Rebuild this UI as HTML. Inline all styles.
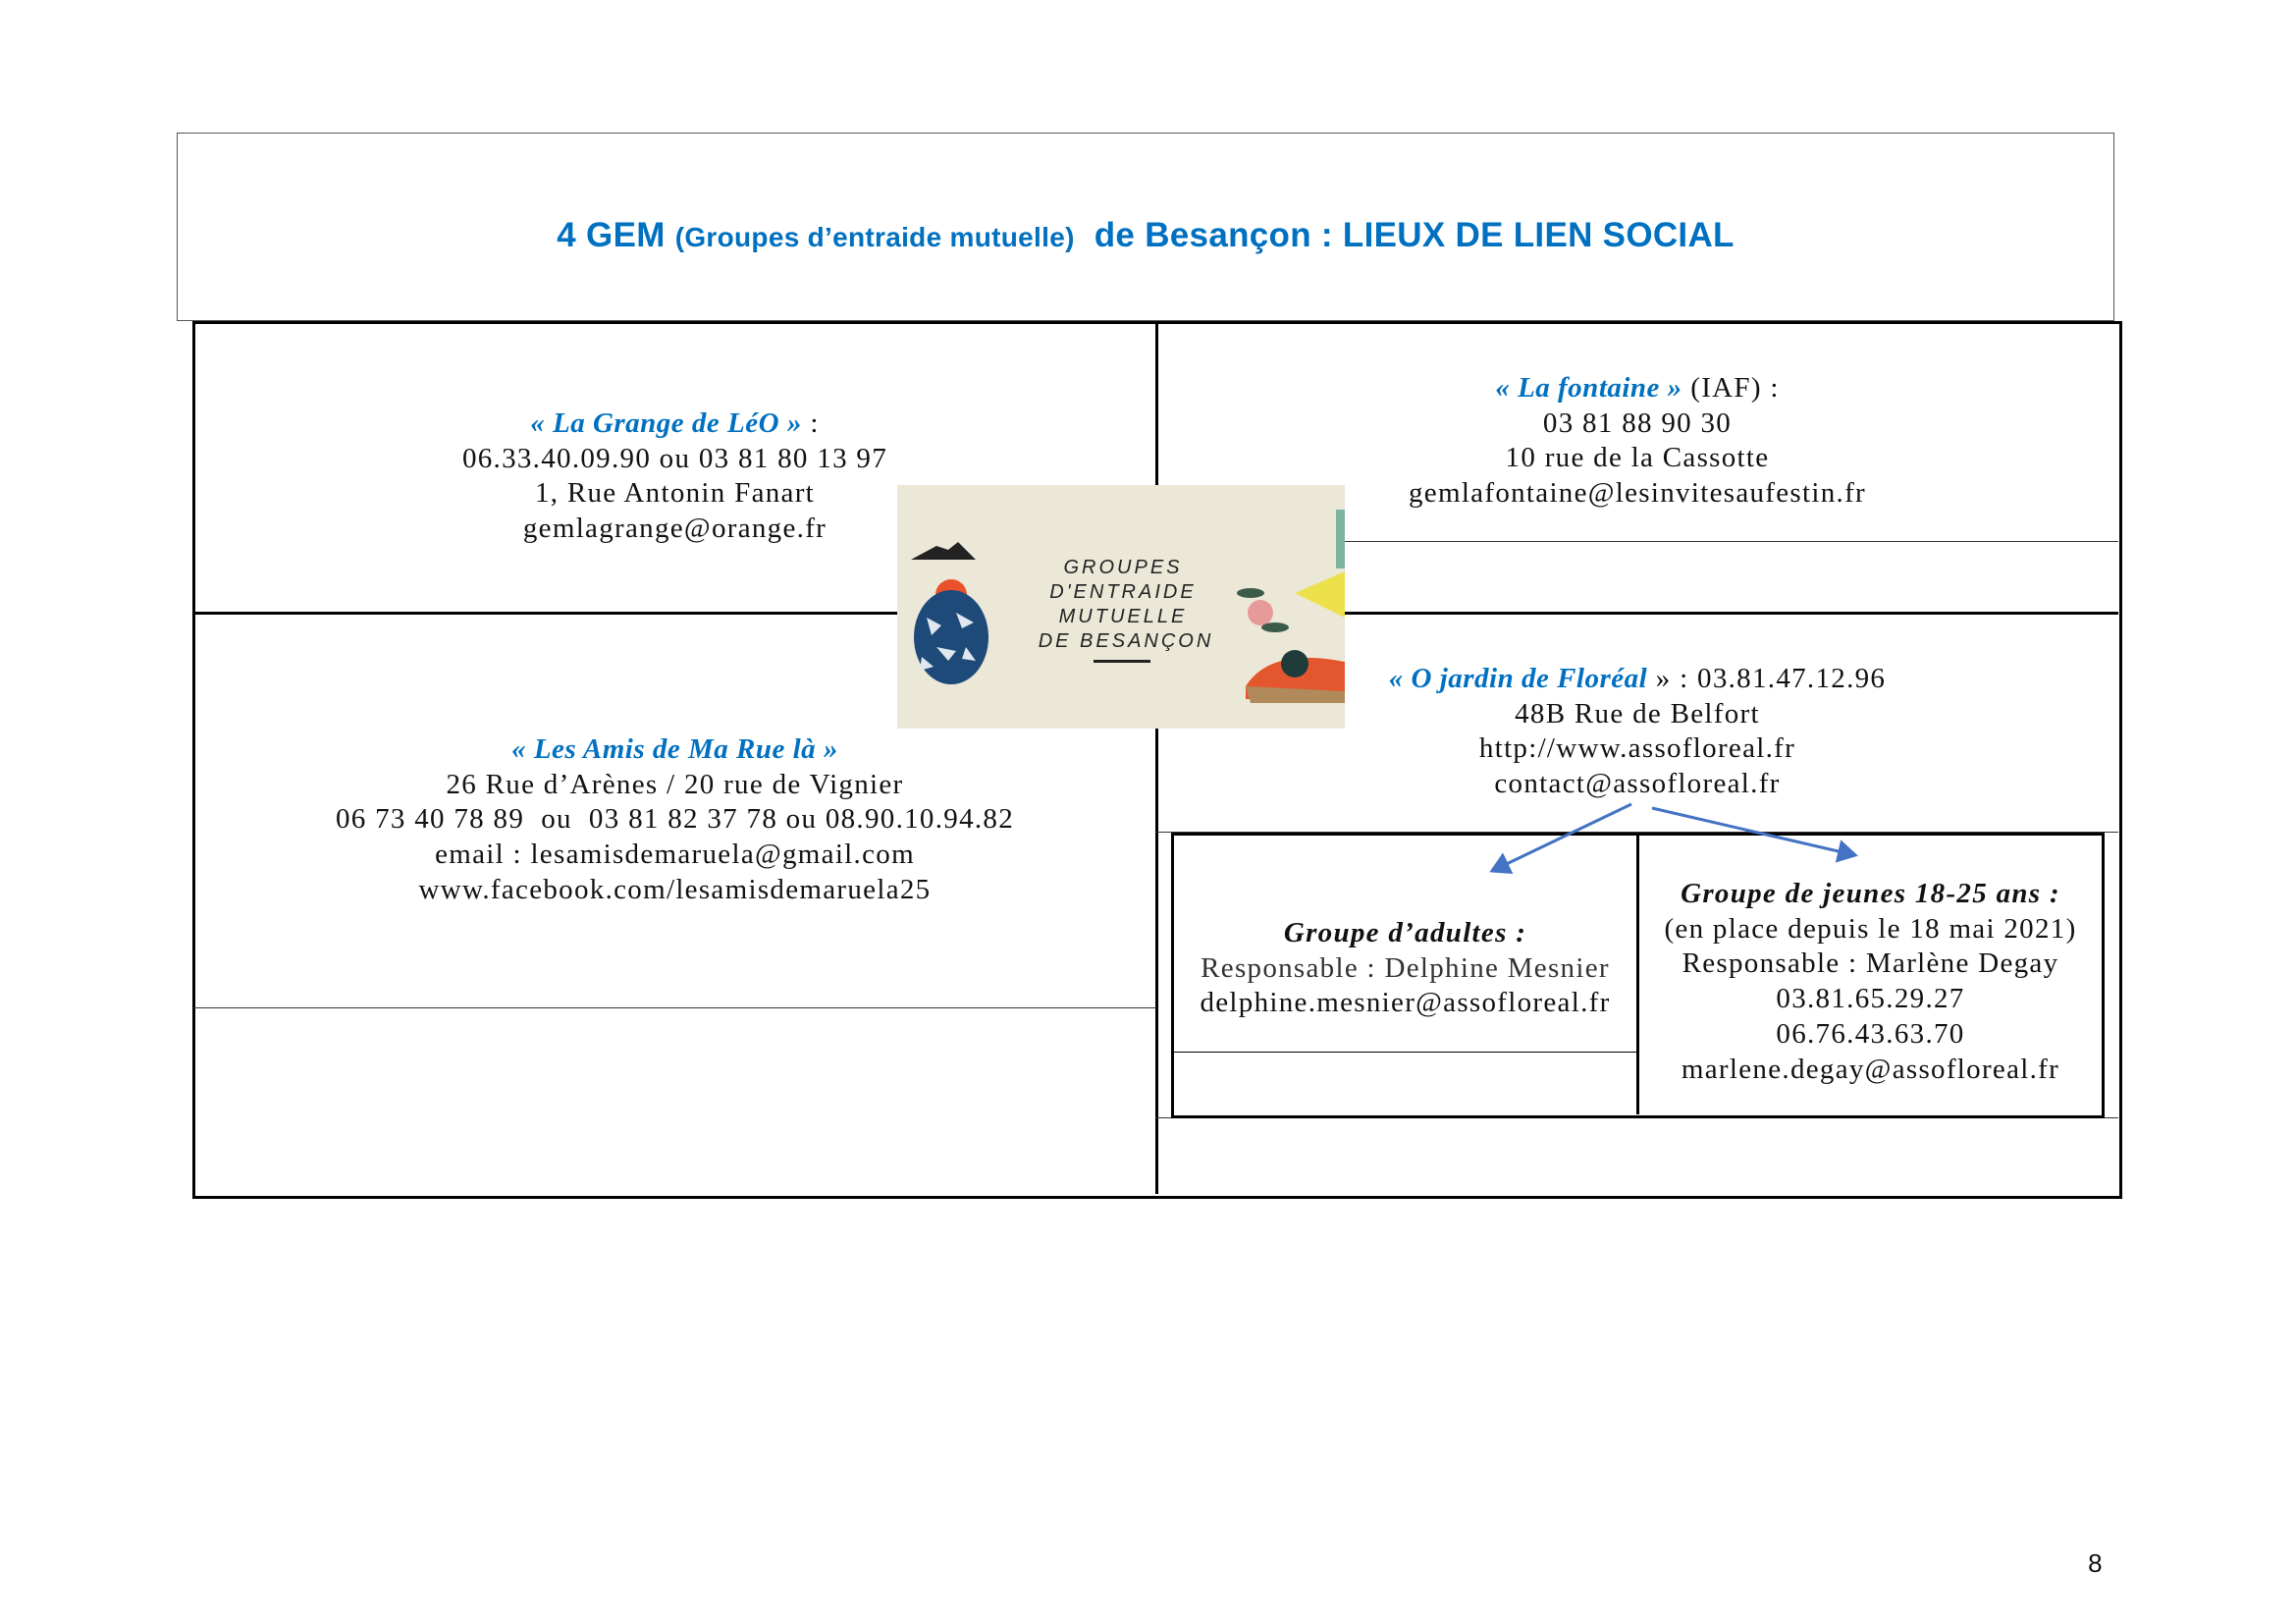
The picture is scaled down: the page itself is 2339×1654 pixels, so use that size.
<!DOCTYPE html>
<html><head><meta charset="utf-8"><style>
body{margin:0;width:2339px;height:1654px;background:#fff;position:relative;overflow:hidden;font-family:"Liberation Serif",serif;color:#111}
.a{position:absolute}
.l{position:absolute;background:#000}
.t{position:absolute;text-align:center;font-size:29px;letter-spacing:1.3px;line-height:35.7px;white-space:nowrap}
.b{color:#0070c0;font-weight:bold;font-style:italic;letter-spacing:0.5px}
</style></head><body>
<div class="a" style="left:180px;top:135px;width:1972px;height:190px;border:1px solid #555"></div>
<div class="t" style="left:180px;top:218px;width:1974px;font-family:'Liberation Sans',sans-serif;font-weight:bold;color:#0070c0;font-size:35px;line-height:44px;letter-spacing:0.3px">4 GEM <span style="font-size:28px">(Groupes d’entraide mutuelle)</span>&nbsp; de Besançon : LIEUX DE LIEN SOCIAL</div>
<div class="a" style="left:196px;top:327px;width:1960px;height:888px;border:3px solid #000"></div>
<div class="l" style="left:1177px;top:328px;width:3px;height:888px"></div>
<div class="l" style="left:197px;top:623px;width:1961px;height:3px"></div>
<div class="l" style="left:197px;top:1026px;width:981px;height:1px;background:#333"></div>
<div class="l" style="left:1370px;top:551px;width:788px;height:1px;background:#333"></div>
<div class="l" style="left:1178px;top:847px;width:980px;height:1px;background:#333"></div>
<div class="l" style="left:1178px;top:1138px;width:980px;height:1px;background:#333"></div>
<div class="a" style="left:1193px;top:848px;width:945px;height:285px;border:3px solid #000"></div>
<div class="l" style="left:1667px;top:850px;width:3px;height:285px"></div>
<div class="l" style="left:1196px;top:1071px;width:472px;height:1px"></div>

<div class="t" style="left:197px;top:414px;width:981px"><span class="b">« La Grange de LéO »</span> :<br>06.33.40.09.90 ou 03 81 80 13 97<br>1, Rue Antonin Fanart<br>gemlagrange@orange.fr</div>
<div class="t" style="left:1178px;top:378px;width:980px"><span class="b">« La fontaine »</span> (IAF) :<br>03 81 88 90 30<br>10 rue de la Cassotte<br>gemlafontaine@lesinvitesaufestin.fr</div>
<div class="t" style="left:197px;top:746px;width:981px"><span class="b">« Les Amis de Ma Rue là »</span><br>26 Rue d’Arènes / 20 rue de Vignier<br>06 73 40 78 89 &nbsp;ou &nbsp;03 81 82 37 78 ou 08.90.10.94.82<br>email : lesamisdemaruela@gmail.com<br>www.facebook.com/lesamisdemaruela25</div>
<div class="t" style="left:1178px;top:674px;width:980px"><span class="b">« O jardin de Floréal</span> » : 03.81.47.12.96<br>48B Rue de Belfort<br>http://www.assofloreal.fr<br>contact@assofloreal.fr</div>
<div class="t" style="left:1196px;top:933px;width:471px"><b><i>Groupe d’adultes :</i></b><br><span style="color:#333">Responsable : Delphine Mesnier</span><br>delphine.mesnier@assofloreal.fr</div>
<div class="t" style="left:1670px;top:893px;width:471px"><b><i>Groupe de jeunes 18-25 ans :</i></b><br>(en place depuis le 18 mai 2021)<br>Responsable : Marlène Degay<br>03.81.65.29.27<br>06.76.43.63.70<br>marlene.degay@assofloreal.fr</div>
<div class="t" style="left:2110px;top:1575px;width:50px;font-family:'Liberation Sans',sans-serif;font-size:26px">8</div>

<svg class="a" style="left:0;top:0" width="2339" height="1654">
<defs><marker id="m" markerWidth="8" markerHeight="8" refX="6" refY="4" orient="auto" markerUnits="strokeWidth"><path d="M0,0 L7,4 L0,8z" fill="#4472c4"/></marker></defs>
<line x1="1662" y1="819" x2="1520" y2="887" stroke="#4472c4" stroke-width="3" marker-end="url(#m)"/>
<line x1="1683" y1="823" x2="1890" y2="871" stroke="#4472c4" stroke-width="3" marker-end="url(#m)"/>
<g transform="translate(914,494)">
<rect width="456" height="248" fill="#ebe8d8"/>
<path d="M14,76 L40,62 L52,66 L62,58 L80,76z" fill="#222"/>
<circle cx="55" cy="112" r="16" fill="#e8512a"/>
<ellipse cx="55" cy="155" rx="38" ry="48" fill="#1d4a78"/>
<path d="M30,135 l15,8 l-10,10z M60,130 l18,10 l-12,6z M40,165 l20,4 l-8,10z M25,175 l12,10 l-14,4z M70,165 l10,14 l-14,-2z" fill="#dfe6ef"/>
<rect x="447" y="25" width="9" height="60" fill="#7fb5a0"/>
<path d="M405,110 L456,88 L456,135z" fill="#ece14a"/>
<circle cx="370" cy="130" r="13" fill="#e79a9a"/>
<ellipse cx="360" cy="110" rx="14" ry="5" fill="#3d5b4a"/>
<ellipse cx="385" cy="145" rx="14" ry="5" fill="#3d5b4a"/>
<path d="M355,205 Q380,165 456,180 L456,218 L355,218z" fill="#e4572e"/>
<circle cx="405" cy="182" r="14" fill="#1f3c3a"/>
<path d="M355,205 L456,210 L456,222 L360,222z" fill="#b08a5a"/>
<text x="230" y="90" text-anchor="middle" font-family="Liberation Sans,sans-serif" font-style="italic" font-size="20" letter-spacing="3" fill="#222">GROUPES</text>
<text x="230" y="115" text-anchor="middle" font-family="Liberation Sans,sans-serif" font-style="italic" font-size="20" letter-spacing="3" fill="#222">D'ENTRAIDE</text>
<text x="230" y="140" text-anchor="middle" font-family="Liberation Sans,sans-serif" font-style="italic" font-size="20" letter-spacing="3" fill="#222">MUTUELLE</text>
<text x="233" y="165" text-anchor="middle" font-family="Liberation Sans,sans-serif" font-style="italic" font-size="20" letter-spacing="3" fill="#222">DE BESANÇON</text>
<rect x="200" y="178" width="58" height="3" fill="#222"/>
</g>
</svg>
</body></html>
